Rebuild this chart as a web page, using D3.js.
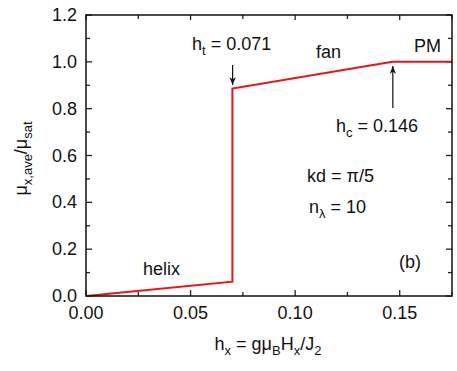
<!DOCTYPE html>
<html><head><meta charset="utf-8">
<script src="https://cdn.jsdelivr.net/npm/d3@7"></script>
<style>body{margin:0;background:#fff}text{font-family:"Liberation Sans",Arial,sans-serif;fill:#111}</style>
</head><body>
<svg id="c" width="457" height="371"></svg>
<script>
const hx = [0.0, 0.0700, 0.0700, 0.1465, 0.175];
const mu = [0.0, 0.061, 0.886, 1.0, 1.0];
const xTicks = [0.00, 0.05, 0.10, 0.15];
const xTickLabels = ["0.00", "0.05", "0.10", "0.15"];
const yTicks = [0.0, 0.2, 0.4, 0.6, 0.8, 1.0, 1.2];
const yTickLabels = ["0.0", "0.2", "0.4", "0.6", "0.8", "1.0", "1.2"];
const xMinor = [0.025, 0.075, 0.125, 0.175];
const yMinor = [0.1, 0.3, 0.5, 0.7, 0.9, 1.1];

const svg = d3.select("#c");
const L = 86, R = 452, T = 15, B = 296;
const x = d3.scaleLinear().domain([0, 0.175]).range([L, R]);
const y = d3.scaleLinear().domain([0, 1.2]).range([B, T]);
const fs = 18;

// ticks
const tk = svg.append("g").attr("stroke", "#222").attr("stroke-width", 1.3);
xTicks.forEach(v => {
  tk.append("line").attr("x1", x(v)).attr("x2", x(v)).attr("y1", B).attr("y2", B - 6);
  tk.append("line").attr("x1", x(v)).attr("x2", x(v)).attr("y1", T).attr("y2", T + 5);
});
xMinor.forEach(v => {
  tk.append("line").attr("x1", x(v)).attr("x2", x(v)).attr("y1", B).attr("y2", B - 4);
  tk.append("line").attr("x1", x(v)).attr("x2", x(v)).attr("y1", T).attr("y2", T + 4);
});
yTicks.forEach(v => {
  tk.append("line").attr("x1", L).attr("x2", L + 6).attr("y1", y(v)).attr("y2", y(v));
  tk.append("line").attr("x1", R).attr("x2", R - 6).attr("y1", y(v)).attr("y2", y(v));
});
yMinor.forEach(v => {
  tk.append("line").attr("x1", L).attr("x2", L + 4).attr("y1", y(v)).attr("y2", y(v));
  tk.append("line").attr("x1", R).attr("x2", R - 4).attr("y1", y(v)).attr("y2", y(v));
});

// tick labels
xTicks.forEach((v, i) => svg.append("text").attr("x", x(v)).attr("y", B + 23)
  .attr("text-anchor", "middle").attr("font-size", fs).text(xTickLabels[i]));
yTicks.forEach((v, i) => svg.append("text").attr("x", L - 9).attr("y", y(v) + 6)
  .attr("text-anchor", "end").attr("font-size", fs).text(yTickLabels[i]));

// data line
const line = d3.line().x((d, i) => x(hx[i])).y((d, i) => y(mu[i]));
svg.append("path").datum(hx).attr("d", line).attr("fill", "none")
  .attr("stroke", "#ee1111").attr("stroke-width", 2);

// frame
svg.append("rect").attr("x", L).attr("y", T).attr("width", R - L).attr("height", B - T)
  .attr("fill", "none").attr("stroke", "#111").attr("stroke-width", 1.5);

// arrows
svg.append("defs").append("marker").attr("id", "ah").attr("viewBox", "0 0 10 10")
  .attr("refX", 10).attr("refY", 5).attr("markerWidth", 8).attr("markerHeight", 8)
  .attr("markerUnits", "userSpaceOnUse").attr("orient", "auto")
  .append("path").attr("d", "M0,1 L10,5 L0,9 L3,5 Z").attr("fill", "#111");
svg.append("line").attr("x1", x(0.0701)).attr("x2", x(0.0701)).attr("y1", 65).attr("y2", 85)
  .attr("stroke", "#111").attr("stroke-width", 1.2).attr("marker-end", "url(#ah)");
svg.append("line").attr("x1", x(0.1467)).attr("x2", x(0.1467)).attr("y1", 108).attr("y2", 66)
  .attr("stroke", "#111").attr("stroke-width", 1.2).attr("marker-end", "url(#ah)");

function sub(t, x0, y0, parts, anchor) {
  const e = svg.append("text").attr("x", x0).attr("y", y0).attr("font-size", fs);
  if (anchor) e.attr("text-anchor", anchor);
  parts.forEach(p => {
    const s = e.append("tspan").text(p[0]);
    if (p[1] === "sub") s.attr("dy", 5).attr("font-size", 13);
    else if (p[1] === "up") s.attr("dy", -5);
  });
  return e;
}
sub(svg, 192, 50, [["h"], ["t", "sub"], [" = 0.071", "up"]]);
svg.append("text").attr("x", 316).attr("y", 58).attr("font-size", fs).text("fan");
svg.append("text").attr("x", 414).attr("y", 52).attr("font-size", fs).text("PM");
sub(svg, 336, 132, [["h"], ["c", "sub"], [" = 0.146", "up"]]);
svg.append("text").attr("x", 307).attr("y", 182).attr("font-size", fs).text("kd = π/5");
sub(svg, 309, 213, [["n"], ["λ", "sub"], [" = 10", "up"]]);
svg.append("text").attr("x", 399).attr("y", 268).attr("font-size", fs).text("(b)");
svg.append("text").attr("x", 143).attr("y", 275).attr("font-size", fs).text("helix");

// x label
sub(svg, 268, 350, [["h"], ["x", "sub"], [" = gμ", "up"], ["B", "sub"], ["H", "up"], ["x", "sub"], ["/J", "up"], ["2", "sub"]], "middle");

// y label
const yl = svg.append("text").attr("transform", `translate(27,${(T + B) / 2 + 3}) rotate(-90)`)
  .attr("text-anchor", "middle").attr("font-size", fs);
yl.append("tspan").text("μ");
yl.append("tspan").text("x,ave").attr("dy", 5).attr("font-size", 13);
yl.append("tspan").text("/μ").attr("dy", -5);
yl.append("tspan").text("sat").attr("dy", 5).attr("font-size", 13);
</script>
</body></html>
